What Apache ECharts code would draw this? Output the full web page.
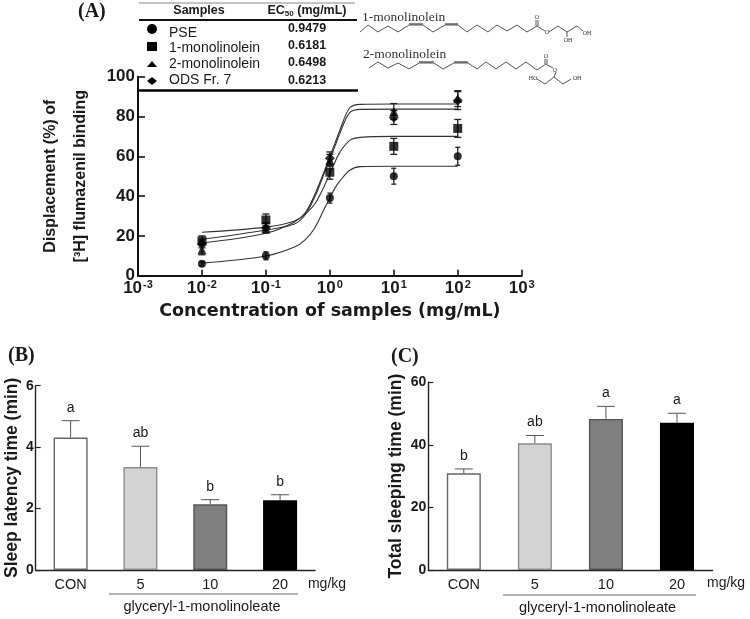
<!DOCTYPE html>
<html><head><meta charset="utf-8">
<style>html,body{margin:0;padding:0;background:#fff}#c{width:750px;height:619px}</style>
<script src="https://cdn.jsdelivr.net/npm/echarts@6/dist/echarts.min.js"></script>
</head><body><div id="c"></div>
<script>
// ---- Panel A data
const concentrations = [0.01, 0.1, 1, 10, 100];
const pseMean  = [6, 10, 39, 50, 60];
const pseErr   = [1, 2, 2.5, 4, 4.5];
const mono1Mean = [17.5, 28, 52, 65, 74];
const mono1Err  = [2.5, 3, 3.5, 4, 4.5];
const mono2Mean = [13, 24, 58, 82.5, 89];
const mono2Err  = [2.5, 2.5, 3, 4, 4];
const odsMean  = [16, 24, 59, 79.5, 88];
const odsErr   = [2, 2.5, 3.2, 3.5, 4.5];
const curveX     = [0.01, 0.1, 0.28, 0.41, 0.58, 0.83, 1, 1.2, 1.43, 2.05, 3, 10, 100];
const pseCurve   = [6.3, 9.9, 14.4, 18, 24, 34, 39, 44, 47.5, 53, 54.8, 55, 55];
const mono1Curve = [21.8, 24.4, 27.5, 31, 36, 45.5, 51.5, 57, 62, 68, 69.5, 70, 70];
const mono2Curve = [16.4, 21.3, 27, 31.5, 40.7, 53, 59.8, 66.5, 73, 84.4, 86.1, 86.3, 86.3];
const odsCurve   = [18.3, 23, 26, 30.5, 39.5, 52, 58.5, 65, 71.5, 82, 83.6, 83.7, 83.7];
const tableSamples = ['PSE', '1-monolinolein', '2-monolinolein', 'ODS Fr. 7'];
const tableEC50 = ['0.9479', '0.6181', '0.6498', '0.6213'];
// ---- Panels B and C data
const doseLabels = ['CON', '5', '10', '20'];
const latencyMean = [4.31, 3.35, 2.14, 2.27];
const latencyTop  = [4.86, 4.03, 2.29, 2.45];
const latencySig  = ['a', 'ab', 'b', 'b'];
const sleepMean = [30.9, 40.5, 48.3, 47.1];
const sleepTop  = [32.3, 43, 52.3, 50.1];
const sleepSig  = ['b', 'ab', 'a', 'a'];

const SANS = '"Liberation Sans", Arial, sans-serif';
const SERIF = '"Liberation Serif", serif';
const INK = '#1a1a1a';
const barFill = ['#ffffff', '#d3d3d3', '#808080', '#000000'];
const barEdge = ['#666666', '#8c8c8c', '#555555', '#000000'];

const chart = echarts.init(document.getElementById('c'), null, {renderer: 'canvas'});

function errorBars(mean, err, gridIdx, cap) {
  return {
    type: 'custom', xAxisIndex: gridIdx, yAxisIndex: gridIdx, silent: true, z: 4,
    data: concentrations.map((c, i) => [c, mean[i], err[i]]),
    renderItem: (p, api) => {
      const x = api.value(0), m = api.value(1), e = api.value(2);
      const t = api.coord([x, m + e]), b = api.coord([x, m - e]);
      const st = {stroke: '#222', lineWidth: 1.3};
      return {type: 'group', children: [
        {type: 'line', shape: {x1: t[0], y1: t[1], x2: b[0], y2: b[1]}, style: st},
        {type: 'line', shape: {x1: t[0] - cap, y1: t[1], x2: t[0] + cap, y2: t[1]}, style: st},
        {type: 'line', shape: {x1: b[0] - cap, y1: b[1], x2: b[0] + cap, y2: b[1]}, style: st}
      ]};
    }
  };
}
function curve(ys) {
  return {type: 'line', xAxisIndex: 0, yAxisIndex: 0, smooth: 0.35, showSymbol: false, silent: true, z: 3,
    lineStyle: {color: '#333', width: 1.1}, data: curveX.map((x, i) => [x, ys[i]])};
}
function markers(ys, symbol, size) {
  return {type: 'scatter', xAxisIndex: 0, yAxisIndex: 0, symbol, symbolSize: size, silent: true, z: 5,
    itemStyle: {color: '#000'}, data: concentrations.map((x, i) => [x, ys[i]])};
}
function bars(mean, gridIdx) {
  return {type: 'bar', xAxisIndex: gridIdx, yAxisIndex: gridIdx, barWidth: 34, silent: true, z: 3,
    data: mean.map((v, i) => ({value: v, itemStyle: {color: barFill[i], borderColor: barEdge[i], borderWidth: 1.4}}))};
}
function upperErr(mean, top, sig, gridIdx) {
  return {
    type: 'custom', xAxisIndex: gridIdx, yAxisIndex: gridIdx, silent: true, z: 2,
    data: mean.map((m, i) => [i, m, top[i], sig[i]]),
    renderItem: (p, api) => {
      const i = api.value(0);
      const b = api.coord([i, api.value(1)]), t = api.coord([i, api.value(2)]);
      const st = {stroke: '#555', lineWidth: 1};
      return {type: 'group', children: [
        {type: 'line', shape: {x1: t[0], y1: t[1], x2: b[0], y2: b[1]}, style: st},
        {type: 'line', shape: {x1: t[0] - 9, y1: t[1], x2: t[0] + 9, y2: t[1]}, style: st},
        {type: 'text', style: {x: t[0], y: t[1] - 13, text: sig[i], align: 'center', verticalAlign: 'middle',
          font: '14px ' + SANS, fill: INK}}
      ]};
    }
  };
}
function yAxisBase(gridIdx, max, interval, gap, name, size) {
  return {type: 'value', gridIndex: gridIdx, min: 0, max, interval, name, nameLocation: 'middle', nameGap: gap, nameRotate: 90,
    nameTextStyle: {fontFamily: SANS, fontWeight: 'bold', fontSize: size, color: INK},
    axisLine: {show: true, lineStyle: {color: '#222', width: 1.4}},
    axisTick: {show: true, inside: true, length: 5, lineStyle: {color: '#222', width: 1.2}},
    splitLine: {show: false},
    axisLabel: {fontFamily: SANS, fontWeight: 'bold', fontSize: 14, color: INK, margin: 2}};
}
function catAxis(gridIdx) {
  return {type: 'category', gridIndex: gridIdx, data: doseLabels,
    axisLine: {show: true, lineStyle: {color: '#222', width: 1.4}}, axisTick: {show: false},
    axisLabel: {fontFamily: SANS, fontSize: 14.5, color: INK, margin: 7}};
}

// ---- Decoration: the two structural formulas and the table rules
function zig(points, w) {
  return {type: 'polyline', silent: true, shape: {points}, style: {stroke: '#555', lineWidth: w || 1, fill: null}};
}
function seg(x1, y1, x2, y2, color, w) {
  return {type: 'line', silent: true, shape: {x1, y1, x2, y2}, style: {stroke: color, lineWidth: w}};
}
function txt(x, y, text, font, fill, align, rich) {
  return {type: 'text', silent: true, z: 20, style: {x, y, text, font, fill: fill || INK, align: align || 'left', verticalAlign: 'middle', rich}};
}
const tableRowY = [29, 46, 63, 80.5];
const tableTextY = [33, 48.5, 64.5, 80];
const deco = [
  seg(139, 3, 355, 3, '#888', 1), seg(139, 20, 357, 20, '#111', 2), seg(137, 90.5, 358, 90.5, '#000', 2.6),
  txt(199, 11, 'Samples', 'bold 12.5px ' + SANS, INK, 'center'),
  txt(307, 11, '{b|EC}{s|50}{b| (mg/mL)}', 'bold 12.5px ' + SANS, INK, 'center',
    {b: {font: 'bold 12.5px ' + SANS, fill: INK}, s: {font: 'bold 8px ' + SANS, fill: INK, verticalAlign: 'bottom', padding: [5, 0, 0, 0]}}),
  {type: 'circle', silent: true, shape: {cx: 152, cy: 29, r: 5}, style: {fill: '#000'}},
  {type: 'rect', silent: true, shape: {x: 147, y: 42, width: 10, height: 9}, style: {fill: '#000'}},
  {type: 'polygon', silent: true, shape: {points: [[147, 67], [157, 67], [152, 61]]}, style: {fill: '#000'}},
  {type: 'polygon', silent: true, shape: {points: [[147, 81], [152, 77], [157, 81], [152, 85]]}, style: {fill: '#000'}},
  txt(78, 12, '(A)', 'bold 20px ' + SERIF),
  txt(8, 356, '(B)', 'bold 20px ' + SERIF),
  txt(391, 357, '(C)', 'bold 20px ' + SERIF),
  txt(327, 584, 'mg/kg', '14px ' + SANS, INK, 'center'),
  seg(109, 594, 298, 594, '#666', 1),
  txt(202, 607, 'glyceryl-1-monolinoleate', '14.5px ' + SANS, INK, 'center'),
  txt(707, 583.5, 'mg/kg', '14px ' + SANS),
  seg(503, 595, 696, 595, '#666', 1),
  txt(597.5, 608, 'glyceryl-1-monolinoleate', '14.5px ' + SANS, INK, 'center'),
  txt(362, 17, '1-monolinolein', '13.5px ' + SERIF, '#333'),
  txt(363, 54, '2-monolinolein', '13.5px ' + SERIF, '#333'),
  zig([[360,32],[368,25],[378,32],[388,26],[398,32],[409,25],[423,25],[433,32],[445,25],[458,25],[467,32],[477,25],[488,32],[497,25],[507,31],[517,25],[527,32],[537,26],[545,31]]),
  zig([[549,32],[558,26],[567,32],[577,26],[583,31]]),
  seg(409, 24, 423, 24, '#555', 1.4), seg(445, 24, 458, 24, '#555', 1.4),
  seg(567, 32, 567, 37, '#555', 1), seg(536, 26, 536, 20, '#555', 1), seg(538, 26, 538, 20, '#555', 1),
  txt(547, 32, 'O', '6px ' + SERIF, '#333', 'center'), txt(537, 17, 'O', '6px ' + SERIF, '#333', 'center'),
  txt(587, 33, 'OH', '6px ' + SERIF, '#333', 'center'), txt(568, 40, 'OH', '6px ' + SERIF, '#333', 'center'),
  zig([[369,68],[378,62],[388,68],[398,63],[409,69],[419,63],[434,63],[443,69],[454,63],[468,63],[477,69],[486,62],[496,69],[506,62],[516,69],[526,62],[537,70],[546,64],[553,68]]),
  zig([[556,72],[554,77],[545,84],[537,79]]), zig([[554,77],[563,84],[571,79]]),
  seg(419, 62, 434, 62, '#555', 1.4), seg(454, 62, 468, 62, '#555', 1.4),
  seg(545, 64, 545, 59, '#555', 1), seg(547, 64, 547, 59, '#555', 1),
  txt(555, 70, 'O', '6px ' + SERIF, '#333', 'center'), txt(546, 56, 'O', '6px ' + SERIF, '#333', 'center'),
  txt(533, 78, 'HO', '6px ' + SERIF, '#333', 'center'), txt(577, 78, 'OH', '6px ' + SERIF, '#333', 'center')
];

chart.setOption({
  animation: false,
  backgroundColor: '#ffffff',
  grid: [
    {left: 138, right: 228.3, top: 76.7, bottom: 343.3, outerBoundsMode: 'none'},
    {left: 35.7, right: 435, top: 385.7, bottom: 49, outerBoundsMode: 'none'},
    {left: 428.3, right: 37.5, top: 382.3, bottom: 49, outerBoundsMode: 'none'}
  ],
  xAxis: [
    {type: 'log', gridIndex: 0, logBase: 10, min: 0.001, max: 1000,
     name: 'Concentration of samples (mg/mL)', nameLocation: 'middle', nameGap: 27,
     nameTextStyle: {fontFamily: '"DejaVu Sans", sans-serif', fontWeight: 'bold', fontSize: 17.5, color: INK},
     axisLine: {show: true, lineStyle: {color: '#111', width: 2}},
     axisTick: {show: true, inside: true, length: 6, lineStyle: {color: '#111', width: 1.6}},
     minorTick: {show: false}, splitLine: {show: false},
     axisLabel: {margin: 4, formatter: v => '{b|10}{s|' + Math.round(Math.log10(v)) + '}',
       rich: {b: {fontFamily: SANS, fontWeight: 'bold', fontSize: 17, color: INK},
              s: {fontFamily: SANS, fontWeight: 'bold', fontSize: 11, color: INK, verticalAlign: 'top', padding: [0, 0, 5, 1]}}}},
    catAxis(1), catAxis(2)
  ],
  yAxis: [
    Object.assign(yAxisBase(0, 100, 20, 39, 'Displacement (%) of\n[³H] flumazenil binding', 16), {
      nameTextStyle: {fontFamily: SANS, fontWeight: 'bold', fontSize: 16, color: INK, lineHeight: 30},
      axisLine: {show: true, lineStyle: {color: '#111', width: 2}},
      axisTick: {show: true, inside: true, length: 7, lineStyle: {color: '#111', width: 1.6}},
      axisLabel: {fontFamily: SANS, fontWeight: 'bold', fontSize: 17, color: INK, margin: 3}}),
    yAxisBase(1, 6, 2, 15, 'Sleep latency time (min)', 17.5),
    yAxisBase(2, 60, 20, 23, 'Total sleeping time (min)', 17.5)
  ],
  series: [
    curve(pseCurve), curve(mono1Curve), curve(mono2Curve), curve(odsCurve),
    errorBars(pseMean, pseErr, 0, 2.5), errorBars(mono1Mean, mono1Err, 0, 3.5),
    errorBars(mono2Mean, mono2Err, 0, 3.5), errorBars(odsMean, odsErr, 0, 3.5),
    markers(pseMean, 'circle', 8), markers(mono1Mean, 'rect', 9),
    markers(mono2Mean, 'triangle', 9), markers(odsMean, 'diamond', 10),
    upperErr(latencyMean, latencyTop, latencySig, 1), bars(latencyMean, 1),
    upperErr(sleepMean, sleepTop, sleepSig, 2), bars(sleepMean, 2)
  ],
  graphic: {elements: deco.concat(
    tableSamples.map((s, i) => txt(169, tableTextY[i], s, '14px ' + SANS)),
    tableEC50.map((s, i) => txt(307, tableRowY[i], s, 'bold 12.5px ' + SANS, INK, 'center'))
  )}
});
</script></body></html>
